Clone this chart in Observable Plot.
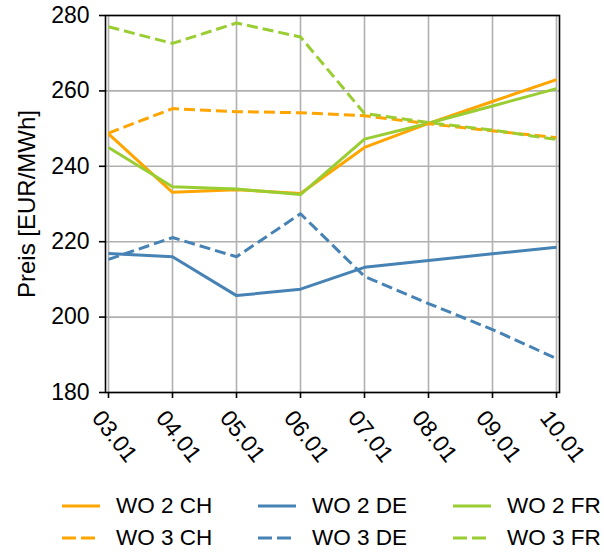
<!DOCTYPE html>
<html>
<head>
<meta charset="utf-8">
<script src="https://cdn.jsdelivr.net/npm/d3@7"></script>
<script src="https://cdn.jsdelivr.net/npm/@observablehq/plot@0.6"></script>
<style>
  html, body { margin: 0; padding: 0; background: #fff; }
  #wrap { position: relative; width: 604px; height: 552px; font-family: "Liberation Sans", Arial, sans-serif; }
  #legend { position: absolute; left: 0; top: 0; width: 604px; height: 552px; pointer-events: none; }
  .item { position: absolute; display: flex; align-items: center; font-size: 22.5px; color: #000; white-space: nowrap; }
  .item svg { margin-right: 16px; flex: none; }
</style>
</head>
<body>
<div id="wrap"><div id="chart"></div><div id="legend"></div></div>
<script>
const dates = ["03.01", "04.01", "05.01", "06.01", "07.01", "08.01", "09.01", "10.01"];
const yTicks = [180, 200, 220, 240, 260, 280];

const wo2CH = [248.6, 233.1, 233.8, 232.8, 245.0, 251.4, 257.2, 263.0];
const wo2DE = [216.9, 216.0, 205.7, 207.4, 213.2, 215.0, 216.8, 218.5];
const wo2FR = [245.0, 234.6, 234.0, 232.5, 247.2, 251.4, 256.0, 260.6];
const wo3CH = [248.8, 255.3, 254.5, 254.2, 253.4, 251.3, 249.4, 247.6];
const wo3DE = [215.3, 221.1, 216.0, 227.4, 210.8, 203.6, 196.7, 189.0];
const wo3FR = [277.0, 272.6, 278.0, 274.3, 254.0, 251.6, 249.6, 247.1];

const seriesNames = ["WO 2 CH", "WO 2 DE", "WO 2 FR", "WO 3 CH", "WO 3 DE", "WO 3 FR"];
const seriesValues = [wo2CH, wo2DE, wo2FR, wo3CH, wo3DE, wo3FR];
const seriesColors = ["#FFA500", "#4682B4", "#9ACD32", "#FFA500", "#4682B4", "#9ACD32"];
const seriesDashed = [false, false, false, true, true, true];

const lineMarks = seriesNames.map((name, i) => {
  const data = dates.map((d, j) => ({date: d, value: seriesValues[i][j]}));
  return Plot.line(data, {
    x: "date", y: "value",
    stroke: seriesColors[i],
    strokeWidth: 3,
    strokeDasharray: seriesDashed[i] ? "11,5" : null,
    strokeLinejoin: "round",
    strokeLinecap: "butt"
  });
});

const chart = Plot.plot({
  width: 604,
  height: 480,
  marginLeft: 105,
  marginRight: 45,
  marginTop: 15,
  marginBottom: 88,
  style: {fontFamily: "'Liberation Sans', Arial, sans-serif", fontSize: "23px", color: "#000", background: "#fff"},
  x: {type: "point", domain: dates, padding: 0},
  y: {domain: [180, 280]},
  marks: [
    Plot.gridX(dates, {stroke: "#b0b0b0", strokeOpacity: 1, strokeWidth: 1.6}),
    Plot.gridY(yTicks, {stroke: "#b0b0b0", strokeOpacity: 1, strokeWidth: 1.6}),
    ...lineMarks,
    Plot.frame({stroke: "#000", strokeWidth: 1.6}),
    Plot.axisX(dates, {tickSize: 6, tickFormat: () => "", label: null, stroke: "#000", strokeWidth: 1.6}),
    Plot.text(dates, {x: d => d, frameAnchor: "bottom", dx: 6, dy: 44, rotate: 52, textAnchor: "middle", lineAnchor: "middle", fontSize: 23, fill: "#000"}),
    Plot.axisY(yTicks, {tickSize: 6, tickPadding: 10, label: null, stroke: "#000", strokeWidth: 1.6, fontSize: 23}),
    Plot.text(["Preis [EUR/MWh]"], {frameAnchor: "left", textAnchor: "middle", dx: -78, rotate: -90, fontSize: 24, fill: "#000"})
  ]
});
document.getElementById("chart").appendChild(chart);

// legend
const legendPos = [
  [62, 506], [258, 506], [453, 506],
  [62, 538], [258, 538], [453, 538]
];
const legend = document.getElementById("legend");
seriesNames.forEach((name, si) => {
  const [lx, ly] = legendPos[si];
  const div = document.createElement("div");
  div.className = "item";
  div.style.left = lx + "px";
  div.style.top = (ly - 14) + "px";
  div.style.height = "28px";
  const dash = seriesDashed[si] ? ' stroke-dasharray="14,5"' : "";
  div.innerHTML = `<svg width="38" height="10"><line x1="0" y1="5" x2="38" y2="5" stroke="${seriesColors[si]}" stroke-width="3"${dash}/></svg><span>${name}</span>`;
  legend.appendChild(div);
});
</script>
</body>
</html>
